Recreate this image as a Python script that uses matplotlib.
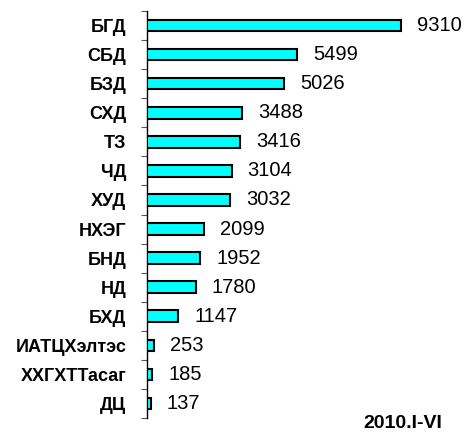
import matplotlib
matplotlib.use("Agg")
import matplotlib.pyplot as plt
import numpy as np

categories = ["БГД", "СБД", "БЗД", "СХД", "ТЗ", "ЧД", "ХУД", "НХЭГ", "БНД", "НД", "БХД",
              "ИАТЦХэлтэс", "ХХГХТТасаг", "ДЦ"]
values = [9310, 5499, 5026, 3488, 3416, 3104, 3032, 2099, 1952, 1780, 1147, 253, 185, 137]
period_label = "2010.I-VI"

plt.rcParams['font.family'] = ['Liberation Sans', 'DejaVu Sans']

fig = plt.figure(figsize=(4.67, 4.32), dpi=100)
ax = fig.add_axes([147/467, 1-418/432, (460-147)/467, (418-11)/432])

y = np.arange(len(categories))
ax.barh(y, values, height=0.4, color='#00FFFF', edgecolor='black', linewidth=1.5, zorder=3)

for yi, v in zip(y, values):
    ax.annotate(str(v), xy=(v, yi), xytext=(16, 0), textcoords='offset pixels',
                ha='left', va='center', fontsize=14.5, color='black')

ax.set_xlim(0, 11472)
ax.set_ylim(len(categories) - 0.5, -0.5)
ax.set_yticks(y)
ax.set_yticklabels(categories, fontsize=13, fontweight='bold')
ax.tick_params(axis='y', which='major', length=0, pad=15)
ax.set_yticks(np.arange(-0.5, len(categories), 1.0), minor=True)
ax.tick_params(axis='y', which='minor', length=4, width=0.8, color='#555555', direction='out')
ax.set_xticks([])
for s in ['top', 'right', 'bottom']:
    ax.spines[s].set_visible(False)
ax.spines['left'].set_linewidth(1.0)
ax.spines['left'].set_color('black')

fig.text(442/467, 1-424/432, period_label, ha='right', va='center', fontsize=14, fontweight='bold')

fig.savefig("out.png", dpi=100)
